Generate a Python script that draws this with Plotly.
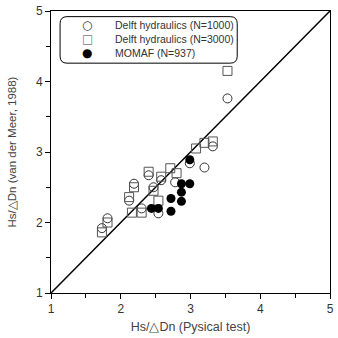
import plotly.graph_objects as go

# Delft hydraulics (N=1000) - open circles
d1000_x = [1.73, 1.81, 2.12, 2.19, 2.30, 2.40, 2.47, 2.54, 2.58, 2.78, 2.99, 3.20, 3.32, 3.53]
d1000_y = [1.92, 2.06, 2.31, 2.55, 2.20, 2.67, 2.50, 2.13, 2.60, 2.57, 2.84, 2.78, 3.08, 3.76]

# Delft hydraulics (N=3000) - open squares
d3000_x = [1.73, 1.81, 2.12, 2.19, 2.16, 2.30, 2.40, 2.58, 2.47, 2.54, 2.71, 2.80, 3.08, 3.20, 3.32, 3.53]
d3000_y = [1.86, 2.00, 2.36, 2.50, 2.14, 2.14, 2.72, 2.65, 2.45, 2.31, 2.77, 2.70, 3.05, 3.13, 3.15, 4.15]

# MOMAF (N=937) - filled circles
momaf_x = [2.99, 2.87, 2.99, 2.87, 2.72, 2.87, 2.72, 2.44, 2.54]
momaf_y = [2.89, 2.55, 2.55, 2.43, 2.34, 2.30, 2.16, 2.20, 2.20]

series_names = ["Delft hydraulics (N=1000)", "Delft hydraulics (N=3000)", "MOMAF (N=937)"]
legend_glyphs = ["○", "□", "●"]

line_x = [1, 5]
line_y = [1, 5]

font = "Arial, Liberation Sans, sans-serif"

fig = go.Figure()
fig.add_trace(go.Scatter(x=line_x, y=line_y, mode="lines", line=dict(color="black", width=1.5),
                         showlegend=False, hoverinfo="skip"))
fig.add_trace(go.Scatter(x=d1000_x, y=d1000_y, mode="markers", name=series_names[0], showlegend=False,
                         marker=dict(symbol="circle-open", size=9, color="#333", line=dict(width=1))))
fig.add_trace(go.Scatter(x=d3000_x, y=d3000_y, mode="markers", name=series_names[1], showlegend=False,
                         marker=dict(symbol="square-open", size=9, color="#555", line=dict(width=1))))
fig.add_trace(go.Scatter(x=momaf_x, y=momaf_y, mode="markers", name=series_names[2], showlegend=False,
                         marker=dict(symbol="circle", size=9, color="black")))

# rounded legend box
x0, x1, y0, y1 = 1.13, 3.67, 4.26, 4.92
r = 0.1
path = (f"M {x0+r},{y1} L {x1-r},{y1} Q {x1},{y1} {x1},{y1-r} L {x1},{y0+r} Q {x1},{y0} {x1-r},{y0} "
        f"L {x0+r},{y0} Q {x0},{y0} {x0},{y0+r} L {x0},{y1-r} Q {x0},{y1} {x0+r},{y1} Z")
fig.add_shape(type="path", path=path, xref="x", yref="y", line=dict(color="black", width=1))

# legend entries as text
glyph_colors = ["#333", "#777", "black"]
for i, (g, name) in enumerate(zip(legend_glyphs, series_names)):
    yp = 0.9504 - i * 0.0496
    fig.add_annotation(x=0.1307, y=yp, xref="paper", yref="paper", text=g, showarrow=False,
                       xanchor="center", yanchor="middle",
                       font=dict(family="DejaVu Sans", size=12, color=glyph_colors[i]))
    fig.add_annotation(x=0.2226, y=yp, xref="paper", yref="paper", text=name, showarrow=False,
                       xanchor="left", yanchor="middle",
                       font=dict(family=font, size=10.5, color="#333"))

axis_common = dict(range=[1, 5], dtick=1, showgrid=False, zeroline=False,
                   showline=True, linecolor="black", linewidth=1, mirror=True,
                   ticks="outside", ticklen=5, tickcolor="black",
                   minor=dict(dtick=0.5, ticks="outside", ticklen=4, tickcolor="black"),
                   tickfont=dict(family=font, size=12, color="#333"))

fig.update_layout(
    width=338, height=338,
    margin=dict(l=51, r=4, t=11, b=45),
    plot_bgcolor="white", paper_bgcolor="white",
    xaxis=dict(**axis_common, title=dict(text="Hs/△Dn (Pysical test)", font=dict(family=font, size=12.5, color="#444"), standoff=6)),
    yaxis=dict(**axis_common, title=dict(text="Hs/△Dn (van der Meer, 1988)", font=dict(family=font, size=11.5, color="#444"), standoff=16)),
    showlegend=False,
)

fig.write_html("out.html")
